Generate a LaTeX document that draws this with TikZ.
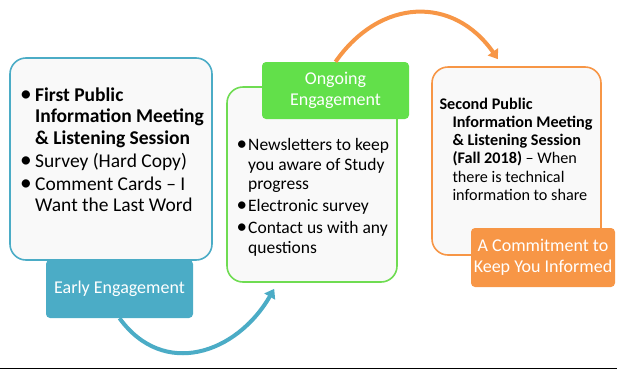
\documentclass[tikz,border=0pt]{standalone}
\usepackage{fontspec}
\setmainfont{Carlito}
\usetikzlibrary{arrows.meta,calc}
\definecolor{cblue}{HTML}{4BACC6}
\definecolor{cgreen}{HTML}{62E04A}
\definecolor{cgreenline}{HTML}{6FDC52}
\definecolor{corange}{HTML}{F79646}
\definecolor{cfill}{HTML}{F9F9F9}
\newcommand{\bigbullet}{\scalebox{1.2}{\textbullet}}
\begin{document}
\begin{tikzpicture}[x=1pt,y=1pt,
  panel/.style={draw, line width=1.6pt, fill=cfill, rounded corners=16pt, inner sep=0pt},
  tag/.style={fill=#1, rounded corners=4pt, text=white, align=center,
    font=\fontsize{18}{21}\selectfont, inner sep=0pt},
  bodytext/.style={anchor=base west, inner sep=0pt},
  arcarrow/.style={line width=4pt, -{Triangle[width=12pt,length=9pt]}}
]
\useasboundingbox (0,0) rectangle (617,-370);

% panels
\node[panel, draw=cblue, minimum width=202pt, minimum height=202pt] (b1) at (111,-159) {};
\node[panel, draw=cgreenline, minimum width=170pt, minimum height=195pt] (b2) at (312,-184.5) {};
\node[panel, draw=corange, minimum width=169pt, minimum height=188pt] (b3) at (516.5,-161) {};

% panel texts
\node[bodytext, font=\fontsize{19.5}{21.5}\selectfont] (t1) at (20,-101) {%
\begin{tabular}[t]{@{}p{15pt}@{}l@{}}
\bigbullet & \textbf{First Public}\\
 & \textbf{Information Meeting}\\
 & \textbf{\& Listening Session}\\[1.5pt]
\bigbullet & Survey (Hard Copy)\\[1.5pt]
\bigbullet & Comment Cards – I\\
 & Want the Last Word
\end{tabular}};

\node[bodytext, font=\fontsize{17.5}{19.5}\selectfont] (t2) at (236.5,-150.7) {%
\begin{tabular}[t]{@{}p{11.5pt}@{}l@{}}
\bigbullet & Newsletters to keep\\
 & you aware of Study\\
 & progress\\[2.5pt]
\bigbullet & Electronic survey\\[2.5pt]
\bigbullet & Contact us with any\\
 & questions
\end{tabular}};

\node[bodytext, font=\fontsize{16.2}{18.3}\selectfont] (t3) at (439.3,-109) {%
\begin{tabular}[t]{@{}p{13pt}@{}l@{}}
\multicolumn{2}{@{}l@{}}{\textbf{Second Public}}\\
 & \textbf{Information Meeting}\\
 & \textbf{\& Listening Session}\\
 & \textbf{(Fall 2018)} – When\\
 & there is technical\\
 & information to share
\end{tabular}};

% labels
\node[tag=cblue, minimum width=147pt, minimum height=58pt] (l1) at (119.5,-289) {Early Engagement};
\node[tag=cgreen, minimum width=147pt, minimum height=57pt] (l2) at (335.5,-90.5) {Ongoing\\Engagement};
\node[tag=corange, minimum width=144pt, minimum height=59pt] (l3) at (543,-257.5) {A Commitment to\\Keep You Informed};

% arcs
\coordinate (be) at ($(b2.south west)+(48,-6)$);
\coordinate (oe) at ($(b3.north)+(-18.5,7)$);
\draw[arcarrow, cblue] (l1.south) to[out=-54, in=-120, distance=75pt] (be);
\draw[arcarrow, corange] (l2.north) to[out=55, in=125, distance=78pt] (oe);

% bottom rule
\coordinate (rl) at (0,-368.5);
\coordinate (rr) at (617,-368.5);
\draw[line width=1.5pt] (rl) -- (rr);
\end{tikzpicture}
\end{document}
